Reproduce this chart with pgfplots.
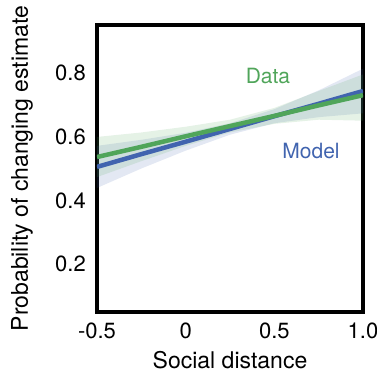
\documentclass[border=0pt]{standalone}
\usepackage{fontspec}
\setmainfont{TeX Gyre Heros}
\usepackage{pgfplots}
\pgfplotsset{compat=1.18}
\usepgfplotslibrary{fillbetween}
\definecolor{dgreen}{RGB}{80,165,90}
\definecolor{mblue}{RGB}{65,100,175}
\begin{document}
\begin{tikzpicture}
\begin{axis}[
  scale only axis, width=266pt, height=287pt,
  xmin=-0.5, xmax=1.0, ymin=0.05, ymax=0.95,
  xtick={-0.5,0,0.5,1.0}, xticklabels={-0.5,0,0.5,1.0},
  ytick={0.2,0.4,0.6,0.8}, yticklabels={0.2,0.4,0.6,0.8},
  major tick length=0pt,
  axis line style={line width=3.5pt},
  /pgf/number format/assume math mode=true,
  ticklabel style={font=\fontsize{22}{26}\selectfont},
  yticklabel style={inner sep=0pt, xshift=-11pt, anchor=east},
  xticklabel style={inner sep=0pt, yshift=-11pt, anchor=north},
  xlabel={Social distance},
  ylabel={Probability of changing estimate},
  label style={font=\fontsize{23}{27}\selectfont},
  xlabel style={at={(axis description cs:0.5,-0.167)}, anchor=center},
  ylabel style={at={(axis description cs:-0.282,0.5)}, anchor=center, rotate=0},
  clip=true,
]
% Model band
\addplot[draw=none, fill=mblue, fill opacity=0.15] coordinates {
 (-0.5,0.571) (-0.25,0.590) (0,0.612) (0.25,0.642) (0.5,0.686) (0.75,0.745) (1.0,0.813)
 (1.0,0.673) (0.75,0.661) (0.5,0.642) (0.25,0.606) (0,0.556) (-0.25,0.500) (-0.5,0.439)
} -- cycle;
% Data band
\addplot[draw=none, fill=dgreen, fill opacity=0.15] coordinates {
 (-0.5,0.599) (-0.25,0.613) (0,0.631) (0.25,0.653) (0.5,0.690) (0.75,0.743) (1.0,0.795)
 (1.0,0.650) (0.75,0.653) (0.5,0.640) (0.25,0.613) (0,0.571) (-0.25,0.523) (-0.5,0.473)
} -- cycle;
% Model line
\addplot[mblue, line width=4.5pt] coordinates {
 (-0.5,0.505) (-0.25,0.545) (0,0.584) (0.25,0.624) (0.5,0.664) (0.75,0.703) (1.0,0.743)
};
% Data line
\addplot[dgreen, line width=4.5pt] coordinates {
 (-0.5,0.536) (-0.25,0.568) (0,0.601) (0.25,0.633) (0.5,0.665) (0.75,0.698) (1.0,0.730)
};
\node[text=dgreen, font=\fontsize{21}{25}\selectfont] at (axis cs:0.464,0.79) {Data};
\node[text=mblue, font=\fontsize{21}{25}\selectfont] at (axis cs:0.707,0.555) {Model};
\end{axis}
\pgfresetboundingbox
\path (-97pt,-63pt) rectangle (280pt,312pt);
\end{tikzpicture}
\end{document}
